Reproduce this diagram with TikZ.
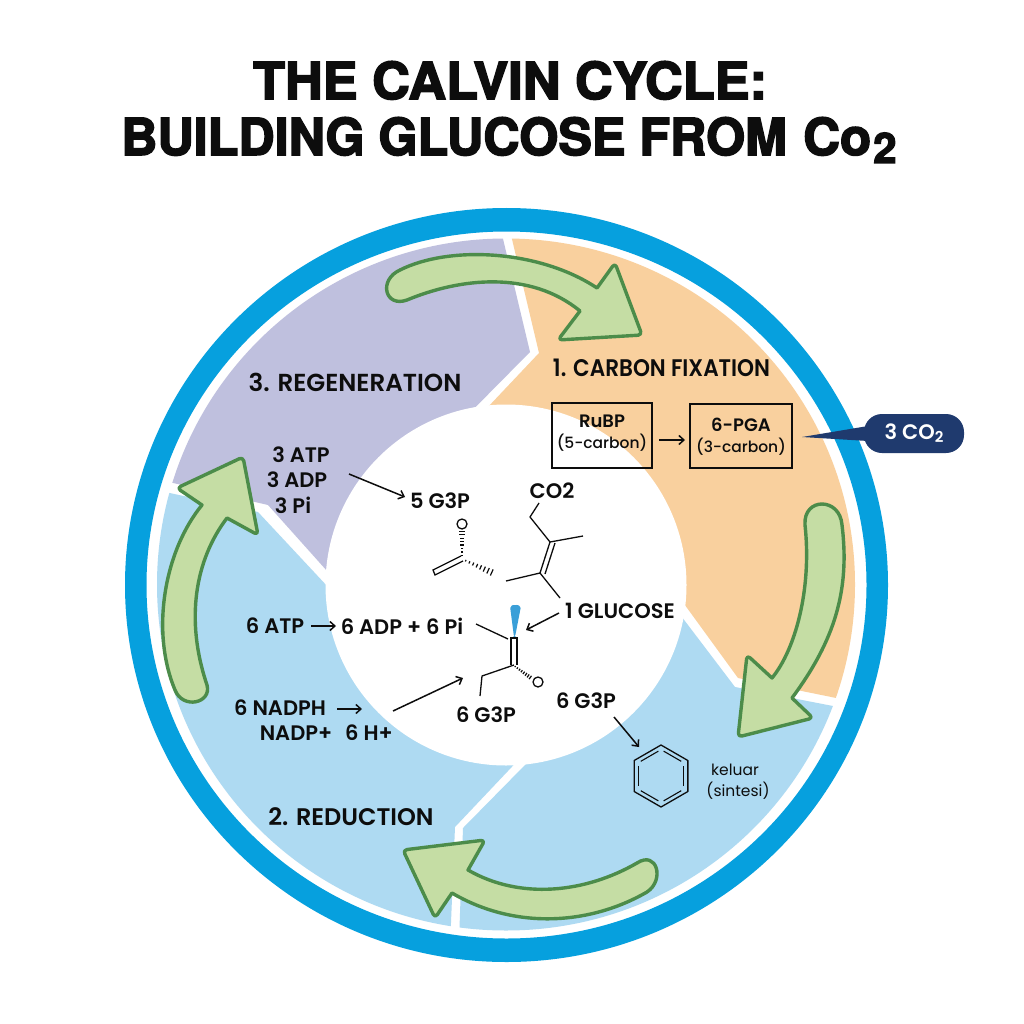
\documentclass[tikz,border=0pt]{standalone}
\usepackage{fontspec}
\usetikzlibrary{arrows.meta,calc}
\setmainfont{Poppins}
\newfontfamily\lab{Poppins}[UprightFont=* SemiBold]
\newfontfamily\med{Poppins}[UprightFont=* Medium]
\newfontfamily\ttl{TeX Gyre Heros}[BoldFeatures={FakeBold=3}]
\definecolor{ringblue}{HTML}{06A0DE}
\definecolor{purplesec}{HTML}{BFC0DE}
\definecolor{orangesec}{HTML}{F9D09E}
\definecolor{bluesec}{HTML}{AEDAF2}
\definecolor{arrowfill}{HTML}{C5DDA4}
\definecolor{arrowline}{HTML}{4C8C4A}
\definecolor{navy}{HTML}{1F3A6E}
\definecolor{wedge}{HTML}{3A9FD8}
\definecolor{ink}{HTML}{0D0D0D}
\tikzset{
  cyclearrow/.style={draw=arrowline,fill=arrowfill,line width=3.4pt,line join=round},
  titletext/.style={font=\fontsize{51}{51}\ttl\bfseries,text=ink,inner sep=0pt},
  heading/.style={font=\fontsize{24}{24}\lab,text=ink,inner sep=0pt},
  chem/.style={font=\fontsize{21}{21}\lab,text=ink,inner sep=0pt},
  boxtitle/.style={font=\fontsize{18}{18}\lab,text=ink,inner sep=0pt},
  small/.style={font=\fontsize{15.5}{15.5}\med,text=ink,inner sep=0pt},
  plain/.style={font=\fontsize{15.5}{15.5}\selectfont,text=ink,inner sep=0pt},
  rxn/.style={draw=ink,line width=1.5pt,-{Straight Barb[length=5pt,width=9pt]}},
  bond/.style={draw=ink,line width=1.3pt},
  boxline/.style={draw=ink,line width=1.1pt},
}
% hashed bond from (#1,#2) to (#3,#4), half width at far end #5
\newcommand{\hashbond}[5]{%
  \pgfmathsetmacro{\hdx}{#3-(#1)}%
  \pgfmathsetmacro{\hdy}{#4-(#2)}%
  \pgfmathsetmacro{\hlen}{sqrt(\hdx*\hdx+\hdy*\hdy)}%
  \foreach \hk in {0.12,0.24,0.36,0.48,0.60,0.72,0.84,0.96}{%
    \pgfmathsetmacro{\hw}{(#5*\hk+0.5)/\hlen}%
    \pgfmathsetmacro{\hx}{#1+\hk*\hdx}%
    \pgfmathsetmacro{\hy}{#2+\hk*\hdy}%
    \draw[ink,line width=1.2pt] (\hx-\hw*\hdy,\hy+\hw*\hdx) -- (\hx+\hw*\hdy,\hy-\hw*\hdx);
  }}
\begin{document}
\begin{tikzpicture}[x=1pt,y=-1pt]
\useasboundingbox (0,0) rectangle (1024,1024);
\fill[white] (0,0) rectangle (1024,1024);
\coordinate (c) at (506,584.5);
% ring
\fill[ringblue,even odd rule] (506.5,585) ellipse [x radius=381.5pt,y radius=377pt] (506.5,585) ellipse [x radius=360pt,y radius=353.5pt];
% sectors
\begin{scope}
\clip (c) ellipse [x radius=349pt,y radius=346pt];
\fill[purplesec] (493,197)--(100,197)--(100,466)--(268,505)--(370,619)--(445,438)--(530,352)--cycle;
\fill[orangesec] (502,197)--(900,197)--(900,711)--(738,678)--(650,557)--(470,426)--(539,353)--cycle;
\fill[bluesec] (100,478)--(258,512)--(370,632)--(560,716)--(455,827)--(449,970)--(100,970)--cycle;
\fill[bluesec] (900,719)--(735,687)--(650,575)--(575,714)--(525,765)--(463,828)--(458,970)--(900,970)--cycle;
\end{scope}
\fill[white] (506,585) circle [radius=180.5pt];
% green arrows
\draw[cyclearrow] (597,288) [rounded corners=4pt] -- (615,263) -- (642,335) -- (558,340) [sharp corners] -- (580,311) .. controls (530,270) and (460,278) .. (407,300) .. controls (385,308) and (378,280) .. (400,270) .. controls (450,245) and (540,250) .. (597,288) -- cycle;
\draw[cyclearrow] (792,698) [rounded corners=4pt] -- (813,718) -- (738,737) -- (747,655) [sharp corners] -- (772,678) .. controls (795,650) and (812,590) .. (805,525) .. controls (803,497) and (840,497) .. (842,525) .. controls (850,590) and (835,640) .. (792,698) -- cycle;
\draw[cyclearrow] (468,870) [rounded corners=4pt] -- (485,840) -- (403,850) -- (435,918) [sharp corners] -- (452,893) .. controls (515,930) and (590,925) .. (647,892) .. controls (665,880) and (657,850) .. (637,863) .. controls (585,893) and (520,900) .. (468,870) -- cycle;
\draw[cyclearrow] (227,518) [rounded corners=4pt] -- (258,535) -- (243,457) -- (177,488) [sharp corners] -- (202,505) .. controls (165,550) and (150,630) .. (175,690) .. controls (183,710) and (212,703) .. (207,685) .. controls (185,620) and (195,560) .. (227,518) -- cycle;
% title
\node[titletext,anchor=base] (t1) at (510,99) {\scalebox{1.025}[1]{THE CALVIN CYCLE:}};
\node[titletext,anchor=base west] (t2) at (121,155) {\scalebox{0.985}[1]{BUILDING GLUCOSE FROM}};
\node[titletext,anchor=base west] (t2b) at (803,155) {Co};
\node[titletext,anchor=base west,font=\fontsize{42}{42}\ttl\bfseries] (t3) at (873,163) {2};
% headings
\node[heading,font=\fontsize{24.6}{24.6}\lab] (h3) at (355,382) {3. REGENERATION};
\node[heading] (h1) at (661.5,368) {\scalebox{0.9}[1]{1. CARBON FIXATION}};
\node[heading] (h2) at (351,817) {2. REDUCTION};
% boxes
\node[boxline,draw,minimum width=100pt,minimum height=65pt,inner sep=0pt] (rubp) at (602,435.5) {};
\node[boxline,draw,minimum width=102pt,minimum height=64pt,inner sep=0pt] (pga) at (741,436) {};
\node[boxtitle] (rubp1) at (602,421) {RuBP};
\node[small] (rubp2) at (602,443) {(5-carbon)};
\node[boxtitle] (pga1) at (741,425) {6-PGA};
\node[small] (pga2) at (741,447) {(3-carbon)};
\coordinate (rp1) at (659,440);
\coordinate (rp2) at (685,440);
\draw[rxn] (rp1) -- (rp2);
% callout
\coordinate (calltip) at (802,437);
\fill[navy] (calltip) -- (868,426) -- (868,441) -- cycle;
\node[fill=navy,rounded corners=18pt,minimum width=100pt,minimum height=39pt,inner sep=0pt,text=white,font=\fontsize{21}{21}\lab] (co2call) at (914,433.5) {3 CO\raisebox{-3pt}{\fontsize{15}{15}\lab 2}};
% regeneration texts
\node[chem] (a3) at (301,455) {3 ATP};
\node[chem] (d3) at (297,480) {3 ADP};
\node[chem] (p3) at (293,505) {3 Pi};
\node[chem] (g5) at (440,501) {5 G3P};
\coordinate (g5s) at (349,474);
\coordinate (g5e) at (405,497);
\draw[rxn] (g5s) -- (g5e);
% molecule 1
\draw[bond] (462,524) circle [radius=5pt];
\hashbond{462}{559}{462}{530}{2.4}
\hashbond{462}{559}{493}{573}{3}
\draw[bond] (461,556) -- (433,570) -- (435,575) -- (463,561);
% molecule 2 with CO2
\node[chem] (co2) at (552,491) {CO2};
\draw[bond,line join=round] (539,503) -- (530,517) -- (550,542) -- (583,536);
\draw[bond] (550,542) -- (540,573);
\draw[bond] (555,543) -- (545,574);
\draw[bond] (506,581) -- (540,573) -- (560,598);
% glucose
\node[chem] (gluc) at (620,611) {1 GLUCOSE};
\coordinate (gl1) at (559,613);
\coordinate (gl2) at (526,630);
\draw[rxn] (gl1) -- (gl2);
\fill[wedge,rounded corners=2pt] (510,606) -- (515,604.5) -- (521,606) -- (515,637) -- (514,637) -- cycle;
% molecule 3
\draw[bond] (476,624) -- (508,639);
\draw[bond] (511,665) -- (511,638) -- (517,638) -- (517,665);
\draw[bond,line join=round] (514,665) -- (482,676) -- (480,696);
\hashbond{513}{665}{531}{678}{1.6}
\draw[bond] (538,682) circle [radius=5pt];
% reduction texts
\node[chem] (a6) at (275,626) {6 ATP};
\coordinate (a6e) at (336,626);
\coordinate (a6s) at (311,626);
\draw[rxn] (a6s) -- (a6e);
\node[chem] (d6) at (402,626) {6 ADP + 6 Pi};
\node[chem] (nadph) at (280,708) {6 NADPH};
\coordinate (ns) at (337,709);
\coordinate (ne) at (362,709);
\draw[rxn] (ns) -- (ne);
\node[chem] (nadp) at (296,733) {NADP+};
\node[chem] (h6) at (369,733) {6 H+};
\coordinate (g6s) at (393,711);
\coordinate (g6e) at (463,678);
\draw[rxn] (g6s) -- (g6e);
\node[chem] (g6a) at (486,715) {6 G3P};
\node[chem] (g6b) at (586,701) {6 G3P};
\coordinate (bs) at (614,717);
\coordinate (be) at (639,747);
\draw[rxn] (bs) -- (be);
% benzene
\coordinate (bz) at (661,776);
\draw[bond,line join=round] (bz) ++(90:31pt) -- ++(-30:31pt) -- ++(-90:31pt) -- ++(-150:31pt) -- ++(150:31pt) -- ++(90:31pt) -- cycle;
\foreach \a in {30,90,...,330}{
  \draw[bond,line width=1.1pt] ($(bz)+(\a+6:25pt)$) -- ($(bz)+(\a+54:25pt)$);
}
\node[plain] (kel) at (735,770) {keluar};
\node[plain] (sin) at (738,791) {(sintesi)};
\end{tikzpicture}
\end{document}
